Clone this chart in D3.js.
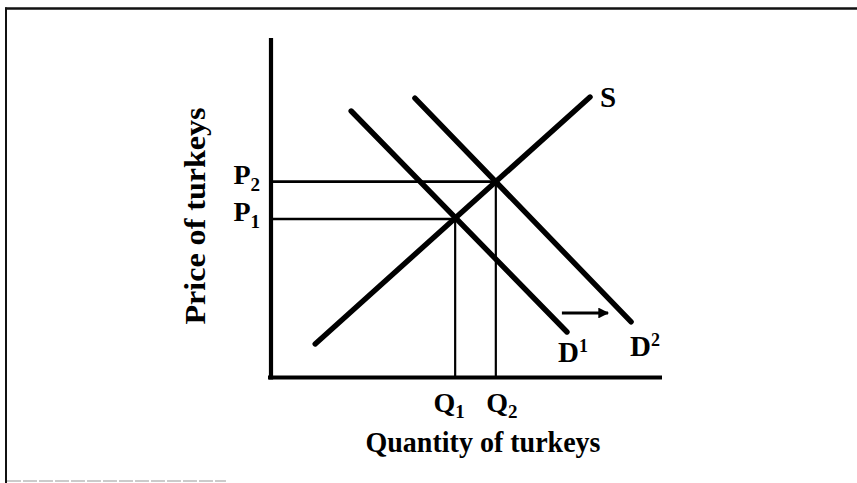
<!DOCTYPE html>
<html>
<head>
<meta charset="utf-8">
<script src="https://cdn.jsdelivr.net/npm/d3@7/dist/d3.min.js"></script>
<style>
  html, body { margin: 0; padding: 0; background: #fff; }
  svg { display: block; }
  text { font-family: "Liberation Serif", "DejaVu Serif", serif; font-weight: bold; fill: #000; }
</style>
</head>
<body>
<svg id="chart" width="857" height="483"></svg>
<script>
// Supply and demand for turkeys: a rightward demand shift raises price and quantity.
const supply  = [{ q: 1.13, p: 0.99 }, { q: 8.16, p: 8.26 }];
const demand1 = [{ q: 2.05, p: 7.85 }, { q: 7.57, p: 1.34 }];
const demand2 = [{ q: 3.68, p: 8.23 }, { q: 9.21, p: 1.64 }];

// Equilibria before (1) and after (2) the shift
const equilibria = [{ q: 4.71, p: 4.67 }, { q: 5.75, p: 5.77 }];
const priceLabels = [{ base: "P", sub: "1" }, { base: "P", sub: "2" }];
const quantityLabels = [{ base: "Q", sub: "1" }, { base: "Q", sub: "2" }];

// Shift arrow between the demand curves
const shiftArrow = [{ q: 7.44, p: 1.90 }, { q: 8.62, p: 1.90 }];

const curveNames = [
  { base: "S", sup: "" },
  { base: "D", sup: "1" },
  { base: "D", sup: "2" }
];
const xTitle = "Quantity of turkeys";
const yTitle = "Price of turkeys";

const svg = d3.select("#chart");

const x = d3.scaleLinear().domain([0, 10]).range([271, 662]);
const y = d3.scaleLinear().domain([0, 10]).range([377.5, 38]);

// Page frame
svg.append("line").attr("x1", 5).attr("x2", 857).attr("y1", 8.5).attr("y2", 8.5)
  .attr("stroke", "#111").attr("stroke-width", 2.5);
svg.append("line").attr("x1", 6).attr("x2", 6).attr("y1", 7.5).attr("y2", 483)
  .attr("stroke", "#111").attr("stroke-width", 2);
svg.append("line").attr("x1", 7).attr("x2", 226).attr("y1", 481).attr("y2", 481)
  .attr("stroke", "#bbb").attr("stroke-width", 1.5).attr("stroke-dasharray", "14 2");

// Guide lines from the equilibria to the axes
const g = svg.append("g");
g.selectAll(".pguide").data(equilibria).join("line")
  .attr("x1", x(0)).attr("x2", d => x(d.q))
  .attr("y1", d => y(d.p)).attr("y2", d => y(d.p))
  .attr("stroke", "#000").attr("stroke-width", 2.6);
g.selectAll(".qguide").data(equilibria).join("line")
  .attr("x1", d => x(d.q)).attr("x2", d => x(d.q))
  .attr("y1", d => y(d.p)).attr("y2", y(0))
  .attr("stroke", "#000").attr("stroke-width", 2.2);

// Axes
svg.append("line").attr("x1", x(0)).attr("x2", x(0)).attr("y1", y(10)).attr("y2", y(0) + 2)
  .attr("stroke", "#000").attr("stroke-width", 4.2);
svg.append("line").attr("x1", x(0) - 3).attr("x2", x(10)).attr("y1", y(0)).attr("y2", y(0))
  .attr("stroke", "#000").attr("stroke-width", 4.2);

// Curves
const line = d3.line().x(d => x(d.q)).y(d => y(d.p));
[supply, demand1, demand2].forEach(c => {
  svg.append("path").attr("d", line(c))
    .attr("fill", "none").attr("stroke", "#000")
    .attr("stroke-width", 5.4).attr("stroke-linecap", "round");
});

// Shift arrow
svg.append("defs").append("marker")
  .attr("id", "head").attr("viewBox", "0 0 10 10")
  .attr("refX", 9).attr("refY", 5)
  .attr("markerWidth", 3.6).attr("markerHeight", 3.6)
  .attr("markerUnits", "strokeWidth").attr("orient", "auto")
  .append("path").attr("d", "M0,0 L10,5 L0,10 Z").attr("fill", "#000");
svg.append("line")
  .attr("x1", x(shiftArrow[0].q)).attr("y1", y(shiftArrow[0].p))
  .attr("x2", x(shiftArrow[1].q)).attr("y2", y(shiftArrow[1].p))
  .attr("stroke", "#000").attr("stroke-width", 3)
  .attr("marker-end", "url(#head)");

// Price labels on the vertical axis
priceLabels.forEach((lab, i) => {
  const t = svg.append("text")
    .attr("x", x(0) - 11).attr("y", y(equilibria[i].p) + 2)
    .attr("text-anchor", "end").attr("font-size", 28);
  t.append("tspan").text(lab.base);
  t.append("tspan").attr("font-size", 19).attr("dy", 7).text(lab.sub);
});

// Quantity labels under the horizontal axis
const qShift = [-6, 6];
quantityLabels.forEach((lab, i) => {
  const t = svg.append("text")
    .attr("x", x(equilibria[i].q) + qShift[i]).attr("y", y(0) + 34)
    .attr("text-anchor", "middle").attr("font-size", 28);
  t.append("tspan").text(lab.base);
  t.append("tspan").attr("font-size", 19).attr("dy", 6).text(lab.sub);
});

// Curve names next to the curve ends
const nameAnchors = [
  { pt: supply[1],  dx: 10, dy: 10 },
  { pt: demand1[1], dx: -9, dy: 30 },
  { pt: demand2[1], dx: -1, dy: 34 }
];
curveNames.forEach((n, i) => {
  const a = nameAnchors[i];
  const t = svg.append("text")
    .attr("x", x(a.pt.q) + a.dx).attr("y", y(a.pt.p) + a.dy)
    .attr("font-size", 29);
  t.append("tspan").text(n.base);
  if (n.sup) t.append("tspan").attr("font-size", 18).attr("dy", -10).text(n.sup);
});

// Axis titles
svg.append("text")
  .attr("x", 483).attr("y", 452)
  .attr("text-anchor", "middle").attr("font-size", 30)
  .attr("textLength", 235).attr("lengthAdjust", "spacingAndGlyphs")
  .text(xTitle);
svg.append("text")
  .attr("transform", "translate(205,216) rotate(-90)")
  .attr("text-anchor", "middle").attr("font-size", 30)
  .attr("textLength", 217).attr("lengthAdjust", "spacingAndGlyphs")
  .text(yTitle);
</script>
</body>
</html>
